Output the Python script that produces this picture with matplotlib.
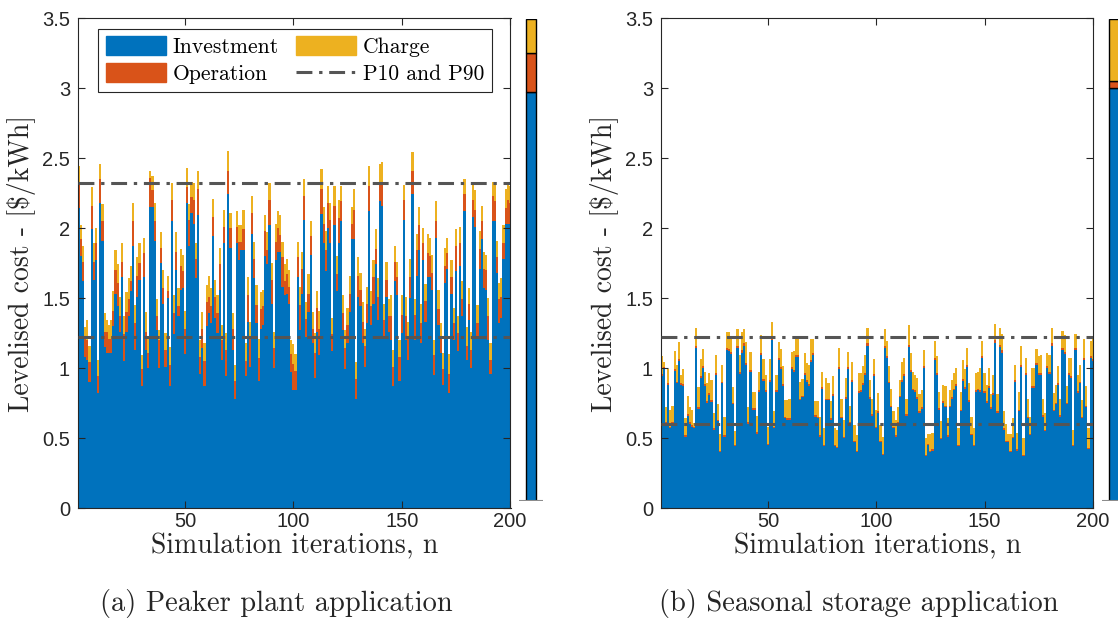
import numpy as np
import matplotlib
matplotlib.use("Agg")
import matplotlib.pyplot as plt
from matplotlib.patches import Patch
from matplotlib.lines import Line2D

# ---------------- data ----------------
iterations = np.arange(1, 201)

inv_a = [2.14, 1.80, 1.62, 1.08, 1.06, 0.90, 1.99, 1.63, 1.77, 0.82,
         2.18, 1.91, 1.15, 1.11, 1.11, 1.11, 1.30, 1.53, 1.44, 1.26,
         1.65, 1.05, 1.26, 1.37, 1.55, 1.87, 1.13, 1.51, 1.63, 0.87,
         1.65, 1.13, 1.00, 2.15, 2.15, 1.91, 1.27, 1.00, 1.75, 1.46,
         1.01, 1.50, 0.87, 2.05, 1.24, 1.70, 1.37, 1.56, 1.57, 1.10,
         2.18, 1.87, 2.11, 2.03, 1.64, 2.09, 0.96, 1.14, 0.87, 1.30,
         1.39, 1.32, 1.94, 1.36, 1.25, 1.56, 1.06, 1.89, 0.94, 2.24,
         1.86, 1.13, 0.78, 1.89, 1.77, 1.84, 1.84, 0.94, 1.33, 1.01,
         1.96, 1.64, 1.32, 0.91, 1.28, 1.31, 1.80, 1.74, 2.02, 1.46,
         1.00, 1.77, 1.83, 1.83, 1.58, 1.52, 1.53, 1.46, 0.97, 0.84,
         0.84, 1.65, 1.27, 1.53, 2.06, 1.22, 1.40, 1.81, 1.18, 0.93,
         1.26, 1.09, 2.10, 1.89, 1.69, 2.00, 1.89, 1.12, 2.02, 1.55,
         1.89, 2.05, 1.27, 0.99, 1.18, 1.40, 1.92, 1.92, 0.78, 1.51,
         1.44, 1.18, 1.01, 1.32, 2.12, 1.31, 1.46, 1.74, 1.34, 2.19,
         2.16, 1.22, 1.51, 1.26, 1.20, 0.87, 1.62, 1.52, 0.91, 1.25,
         2.06, 1.20, 1.06, 1.50, 2.24, 1.20, 1.66, 1.84, 1.18, 1.77,
         1.33, 1.65, 1.65, 1.56, 0.95, 1.93, 1.31, 1.11, 0.88, 1.61,
         1.71, 0.82, 1.53, 1.20, 1.69, 1.12, 1.73, 1.37, 2.12, 1.06,
         1.34, 1.00, 2.08, 2.01, 1.21, 1.71, 1.92, 1.57, 1.56, 1.20,
         0.96, 2.05, 2.05, 1.68, 1.32, 1.36, 1.78, 2.03, 2.03, 2.03]

op_a = [0.17, 0.12, 0.14, 0.14, 0.14, 0.14, 0.17, 0.13, 0.12, 0.12,
        0.17, 0.14, 0.11, 0.15, 0.10, 0.10, 0.11, 0.17, 0.17, 0.11,
        0.11, 0.19, 0.14, 0.12, 0.07, 0.18, 0.19, 0.15, 0.12, 0.12,
        0.17, 0.13, 0.11, 0.21, 0.12, 0.14, 0.10, 0.20, 0.11, 0.11,
        0.12, 0.05, 0.15, 0.15, 0.15, 0.13, 0.07, 0.17, 0.12, 0.18,
        0.11, 0.19, 0.11, 0.17, 0.14, 0.19, 0.12, 0.14, 0.18, 0.17,
        0.12, 0.12, 0.14, 0.15, 0.14, 0.18, 0.14, 0.12, 0.19, 0.17,
        0.14, 0.15, 0.13, 0.12, 0.13, 0.06, 0.15, 0.11, 0.19, 0.21,
        0.15, 0.14, 0.13, 0.16, 0.14, 0.13, 0.18, 0.10, 0.18, 0.17,
        0.14, 0.13, 0.17, 0.12, 0.21, 0.10, 0.14, 0.12, 0.13, 0.19,
        0.14, 0.14, 0.18, 0.18, 0.17, 0.13, 0.13, 0.13, 0.10, 0.18,
        0.17, 0.19, 0.18, 0.14, 0.15, 0.18, 0.17, 0.12, 0.14, 0.12,
        0.18, 0.14, 0.12, 0.15, 0.13, 0.13, 0.11, 0.21, 0.14, 0.15,
        0.12, 0.15, 0.15, 0.14, 0.18, 0.13, 0.19, 0.11, 0.17, 0.14,
        0.17, 0.12, 0.12, 0.11, 0.17, 0.14, 0.14, 0.13, 0.17, 0.13,
        0.14, 0.17, 0.15, 0.15, 0.17, 0.18, 0.18, 0.18, 0.14, 0.12,
        0.15, 0.17, 0.15, 0.12, 0.14, 0.12, 0.11, 0.10, 0.11, 0.12,
        0.11, 0.14, 0.12, 0.12, 0.18, 0.13, 0.16, 0.12, 0.12, 0.10,
        0.12, 0.13, 0.12, 0.12, 0.11, 0.14, 0.13, 0.14, 0.14, 0.17,
        0.10, 0.18, 0.14, 0.11, 0.17, 0.15, 0.11, 0.11, 0.17, 0.15]

ch_a = [0.13, 0.10, 0.11, 0.07, 0.14, 0.12, 0.13, 0.13, 0.11, 0.12,
        0.11, 0.12, 0.13, 0.08, 0.10, 0.13, 0.14, 0.14, 0.13, 0.14,
        0.13, 0.13, 0.14, 0.15, 0.11, 0.13, 0.13, 0.13, 0.14, 0.10,
        0.11, 0.14, 0.10, 0.05, 0.10, 0.13, 0.12, 0.07, 0.11, 0.13,
        0.12, 0.11, 0.13, 0.12, 0.13, 0.14, 0.13, 0.12, 0.12, 0.13,
        0.14, 0.11, 0.11, 0.12, 0.11, 0.13, 0.12, 0.12, 0.13, 0.12,
        0.15, 0.13, 0.13, 0.12, 0.13, 0.12, 0.11, 0.12, 0.12, 0.14,
        0.11, 0.11, 0.11, 0.11, 0.12, 0.12, 0.14, 0.13, 0.13, 0.11,
        0.12, 0.12, 0.14, 0.14, 0.12, 0.12, 0.11, 0.13, 0.12, 0.12,
        0.12, 0.13, 0.12, 0.14, 0.11, 0.12, 0.11, 0.12, 0.10, 0.14,
        0.12, 0.11, 0.13, 0.12, 0.12, 0.12, 0.14, 0.11, 0.12, 0.14,
        0.12, 0.13, 0.14, 0.12, 0.14, 0.12, 0.12, 0.12, 0.14, 0.13,
        0.13, 0.11, 0.13, 0.13, 0.12, 0.13, 0.12, 0.15, 0.12, 0.13,
        0.12, 0.14, 0.12, 0.12, 0.14, 0.11, 0.12, 0.14, 0.13, 0.13,
        0.14, 0.12, 0.13, 0.12, 0.15, 0.12, 0.11, 0.11, 0.12, 0.14,
        0.11, 0.14, 0.12, 0.13, 0.13, 0.11, 0.12, 0.13, 0.14, 0.11,
        0.12, 0.14, 0.13, 0.13, 0.11, 0.14, 0.14, 0.11, 0.12, 0.13,
        0.11, 0.14, 0.12, 0.11, 0.12, 0.12, 0.12, 0.13, 0.11, 0.13,
        0.11, 0.13, 0.13, 0.14, 0.13, 0.13, 0.11, 0.12, 0.11, 0.13,
        0.12, 0.10, 0.12, 0.12, 0.12, 0.13, 0.13, 0.14, 0.11, 0.12]

inv_b = [0.94, 0.99, 0.60, 0.88, 0.57, 0.60, 0.98, 0.89, 1.05, 0.88,
         0.87, 0.51, 0.66, 0.60, 0.58, 0.57, 1.14, 0.71, 0.93, 1.00,
         0.87, 0.75, 0.81, 0.76, 0.56, 0.95, 0.62, 0.40, 0.89, 0.51,
         1.13, 1.12, 1.10, 0.74, 0.44, 1.14, 0.96, 1.11, 1.16, 1.02,
         0.60, 0.97, 0.70, 0.70, 0.53, 0.83, 1.09, 0.91, 0.83, 0.45,
         0.90, 1.20, 0.57, 0.83, 1.06, 0.99, 0.87, 0.64, 0.63, 0.63,
         0.99, 0.97, 1.08, 1.08, 0.77, 0.79, 0.95, 0.90, 0.87, 1.04,
         1.09, 0.65, 0.64, 0.51, 0.85, 0.44, 0.77, 0.77, 0.63, 0.80,
         0.44, 0.43, 0.99, 0.64, 0.50, 0.78, 0.99, 0.60, 0.90, 0.47,
         0.40, 0.82, 0.83, 0.88, 0.95, 1.16, 0.78, 0.66, 0.94, 0.57,
         0.68, 0.47, 0.38, 1.14, 1.07, 0.89, 0.72, 0.57, 0.51, 0.60,
         0.79, 0.90, 0.94, 0.66, 1.15, 0.97, 0.84, 0.83, 0.78, 0.68,
         0.71, 1.00, 0.37, 0.45, 0.40, 0.41, 1.06, 0.95, 0.70, 0.49,
         0.75, 0.72, 0.51, 0.72, 0.78, 0.84, 0.87, 0.44, 0.69, 0.91,
         0.85, 1.01, 0.76, 0.52, 0.44, 0.83, 0.84, 0.83, 1.07, 0.82,
         0.75, 0.86, 0.71, 0.81, 1.18, 0.68, 1.15, 1.11, 0.56, 0.47,
         0.47, 0.40, 0.50, 0.90, 0.41, 0.69, 1.01, 0.37, 0.95, 0.64,
         0.52, 0.86, 0.86, 1.02, 0.95, 0.95, 0.65, 0.55, 1.00, 0.96,
         1.16, 0.69, 0.74, 0.88, 0.65, 1.13, 1.10, 0.74, 0.95, 0.93,
         0.44, 1.13, 0.82, 0.89, 0.64, 1.06, 0.72, 0.42, 1.07, 1.05]

op_b = [0.014, 0.015, 0.011, 0.013, 0.010, 0.011, 0.015, 0.013, 0.016, 0.013,
        0.013, 0.010, 0.012, 0.011, 0.011, 0.010, 0.016, 0.012, 0.014, 0.015,
        0.013, 0.012, 0.013, 0.012, 0.010, 0.014, 0.011, 0.009, 0.013, 0.010,
        0.016, 0.016, 0.015, 0.012, 0.009, 0.016, 0.014, 0.016, 0.017, 0.015,
        0.011, 0.014, 0.012, 0.012, 0.010, 0.013, 0.015, 0.014, 0.013, 0.009,
        0.014, 0.017, 0.010, 0.013, 0.015, 0.014, 0.013, 0.011, 0.011, 0.011,
        0.014, 0.014, 0.015, 0.015, 0.012, 0.012, 0.014, 0.014, 0.013, 0.015,
        0.015, 0.011, 0.011, 0.010, 0.013, 0.009, 0.012, 0.012, 0.011, 0.013,
        0.009, 0.009, 0.014, 0.011, 0.010, 0.012, 0.014, 0.011, 0.014, 0.010,
        0.009, 0.013, 0.013, 0.013, 0.014, 0.016, 0.012, 0.011, 0.014, 0.010,
        0.011, 0.010, 0.009, 0.016, 0.015, 0.013, 0.012, 0.010, 0.010, 0.011,
        0.012, 0.014, 0.014, 0.011, 0.016, 0.014, 0.013, 0.013, 0.012, 0.011,
        0.012, 0.015, 0.009, 0.009, 0.009, 0.009, 0.015, 0.014, 0.011, 0.010,
        0.012, 0.012, 0.010, 0.012, 0.012, 0.013, 0.013, 0.009, 0.011, 0.014,
        0.013, 0.015, 0.012, 0.010, 0.009, 0.013, 0.013, 0.013, 0.015, 0.013,
        0.012, 0.013, 0.012, 0.013, 0.017, 0.011, 0.016, 0.016, 0.010, 0.010,
        0.010, 0.009, 0.010, 0.014, 0.009, 0.011, 0.015, 0.009, 0.014, 0.011,
        0.010, 0.013, 0.013, 0.015, 0.014, 0.014, 0.011, 0.010, 0.015, 0.014,
        0.016, 0.011, 0.012, 0.013, 0.011, 0.016, 0.016, 0.012, 0.014, 0.014,
        0.009, 0.016, 0.013, 0.013, 0.011, 0.015, 0.012, 0.009, 0.015, 0.015]

ch_b = [0.13, 0.04, 0.11, 0.10, 0.12, 0.12, 0.13, 0.12, 0.12, 0.06,
        0.11, 0.12, 0.13, 0.11, 0.11, 0.03, 0.13, 0.14, 0.12, 0.12,
        0.09, 0.13, 0.14, 0.14, 0.11, 0.13, 0.11, 0.12, 0.12, 0.13,
        0.11, 0.12, 0.11, 0.11, 0.10, 0.12, 0.12, 0.13, 0.10, 0.15,
        0.11, 0.13, 0.12, 0.12, 0.12, 0.13, 0.13, 0.14, 0.11, 0.12,
        0.15, 0.11, 0.11, 0.11, 0.11, 0.13, 0.13, 0.12, 0.13, 0.14,
        0.11, 0.14, 0.11, 0.11, 0.12, 0.12, 0.14, 0.12, 0.14, 0.15,
        0.10, 0.10, 0.11, 0.13, 0.11, 0.12, 0.15, 0.11, 0.12, 0.13,
        0.12, 0.12, 0.14, 0.13, 0.12, 0.14, 0.11, 0.12, 0.13, 0.11,
        0.11, 0.13, 0.12, 0.12, 0.13, 0.11, 0.12, 0.11, 0.11, 0.12,
        0.13, 0.11, 0.12, 0.12, 0.11, 0.11, 0.12, 0.11, 0.11, 0.11,
        0.11, 0.13, 0.12, 0.11, 0.14, 0.12, 0.12, 0.11, 0.14, 0.12,
        0.12, 0.11, 0.12, 0.07, 0.12, 0.12, 0.12, 0.12, 0.12, 0.12,
        0.12, 0.14, 0.12, 0.11, 0.12, 0.11, 0.12, 0.12, 0.13, 0.13,
        0.13, 0.12, 0.12, 0.12, 0.12, 0.12, 0.12, 0.16, 0.11, 0.13,
        0.12, 0.13, 0.09, 0.13, 0.12, 0.12, 0.12, 0.12, 0.12, 0.12,
        0.05, 0.12, 0.13, 0.11, 0.12, 0.13, 0.13, 0.12, 0.11, 0.13,
        0.12, 0.13, 0.13, 0.10, 0.12, 0.13, 0.12, 0.12, 0.09, 0.12,
        0.11, 0.12, 0.13, 0.12, 0.12, 0.12, 0.12, 0.12, 0.11, 0.13,
        0.11, 0.10, 0.12, 0.12, 0.12, 0.13, 0.14, 0.14, 0.11, 0.16]

p10_a, p90_a = 1.22, 2.32
p10_b, p90_b = 0.60, 1.22

series_names = ["Investment", "Operation", "Charge"]
legend_line_label = "P10 and P90"
ylabel = "Levelised cost - [$/kWh]"
xlabel = "Simulation iterations, n"
captions = ["(a) Peaker plant application", "(b) Seasonal storage application"]
yticks = [0, 0.5, 1, 1.5, 2, 2.5, 3, 3.5]
ytick_labels = ["0", "0.5", "1", "1.5", "2", "2.5", "3", "3.5"]
xticks = [50, 100, 150, 200]

# ---------------- style ----------------
C_INV = "#0072BD"
C_OP = "#D95319"
C_CH = "#EDB120"
C_LINE = "#555555"
C_AX = "#262626"
SERIF = ["cmr10", "DejaVu Serif"]
SANS = ["Liberation Sans", "DejaVu Sans"]
DASH = (5.2, 2.2, 1.1, 2.2)

plt.rcParams["axes.unicode_minus"] = False

W, H = 1118, 620
fig = plt.figure(figsize=(W / 100, H / 100), dpi=100)


def fx(px):
    return px / W


def fy(py):
    return 1 - py / H


def panel(left_px, right_px, inv, op, ch, p10, p90, side_left_px, show_legend, caption_x, caption):
    inv = np.asarray(inv)
    op = np.asarray(op)
    ch = np.asarray(ch)
    ax = fig.add_axes([fx(left_px), fy(508), fx(right_px - left_px), (508 - 18) / H])
    bw = 1.0
    kw = dict(width=bw, linewidth=0, antialiased=False)
    ax.bar(iterations, inv, color=C_INV, **kw)
    ax.bar(iterations, op, bottom=inv, color=C_OP, **kw)
    ax.bar(iterations, ch, bottom=inv + op, color=C_CH, **kw)
    for v in (p10, p90):
        ax.axhline(v, color=C_LINE, lw=2.2, dashes=DASH, zorder=3)
    ax.set_xlim(0.8, 200.2)
    ax.set_ylim(0, 3.5)
    ax.set_yticks(yticks)
    ax.set_yticklabels(ytick_labels)
    ax.set_xticks(xticks)
    ax.set_xticklabels([str(t) for t in xticks])
    ax.tick_params(direction="in", length=5, width=0.8, top=True, right=True,
                   colors=C_AX, labelsize=14.5)
    ax.tick_params(axis="x", pad=3)
    ax.tick_params(axis="y", pad=6)
    for lab in ax.get_xticklabels() + ax.get_yticklabels():
        lab.set_family(SANS)
        lab.set_color("#262626")
    for s in ax.spines.values():
        s.set_color(C_AX)
        s.set_linewidth(0.8)
    ax.set_ylabel(ylabel, family=SERIF, fontsize=20, color="#262626", labelpad=4)
    ax.set_xlabel(xlabel, family=SERIF, fontsize=20, color="#262626", labelpad=1)

    if show_legend:
        handles = [Patch(color=C_INV, label=series_names[0]),
                   Patch(color=C_OP, label=series_names[1]),
                   Patch(color=C_CH, label=series_names[2]),
                   Line2D([], [], color=C_LINE, lw=2.2, dashes=DASH,
                          label=legend_line_label)]
        leg = ax.legend(handles=handles, ncol=2, loc="upper left",
                        bbox_to_anchor=(0.046, 0.978), prop={"family": SERIF, "size": 15.5},
                        frameon=True, fancybox=False, edgecolor=C_AX, framealpha=1,
                        handlelength=2.8, handleheight=0.95, handletextpad=0.3,
                        columnspacing=0.8, labelspacing=0.3, borderpad=0.35,
                        borderaxespad=0)
        leg.get_frame().set_linewidth(0.8)

    # side bar with mean composition
    means = np.array([inv.mean(), op.mean(), ch.mean()])
    shares = means / means.sum()
    sax = fig.add_axes([fx(side_left_px), fy(501), fx(24), (501 - 19) / H])
    bottoms = np.concatenate([[0], np.cumsum(shares)[:-1]])
    for sh, bt, c in zip(shares, bottoms, [C_INV, C_OP, C_CH]):
        sax.bar([0.5], [sh], bottom=[bt], width=0.42, color=c,
                edgecolor="black", linewidth=1.0)
    sax.axhline(0, color="#8c8c8c", lw=1.5)
    sax.set_xlim(0, 1)
    sax.set_ylim(0, 1)
    sax.axis("off")

    fig.text(fx(caption_x), fy(604), caption,
             family=SERIF, fontsize=20.5, ha="center", va="center", color="#262626")
    return ax


panel(78.3, 510.5, inv_a, op_a, ch_a, p10_a, p90_a, 519, True, 276, captions[0])
panel(661.3, 1093.3, inv_b, op_b, ch_b, p10_b, p90_b, 1102, False, 859, captions[1])

fig.savefig("out.png", dpi=100)
